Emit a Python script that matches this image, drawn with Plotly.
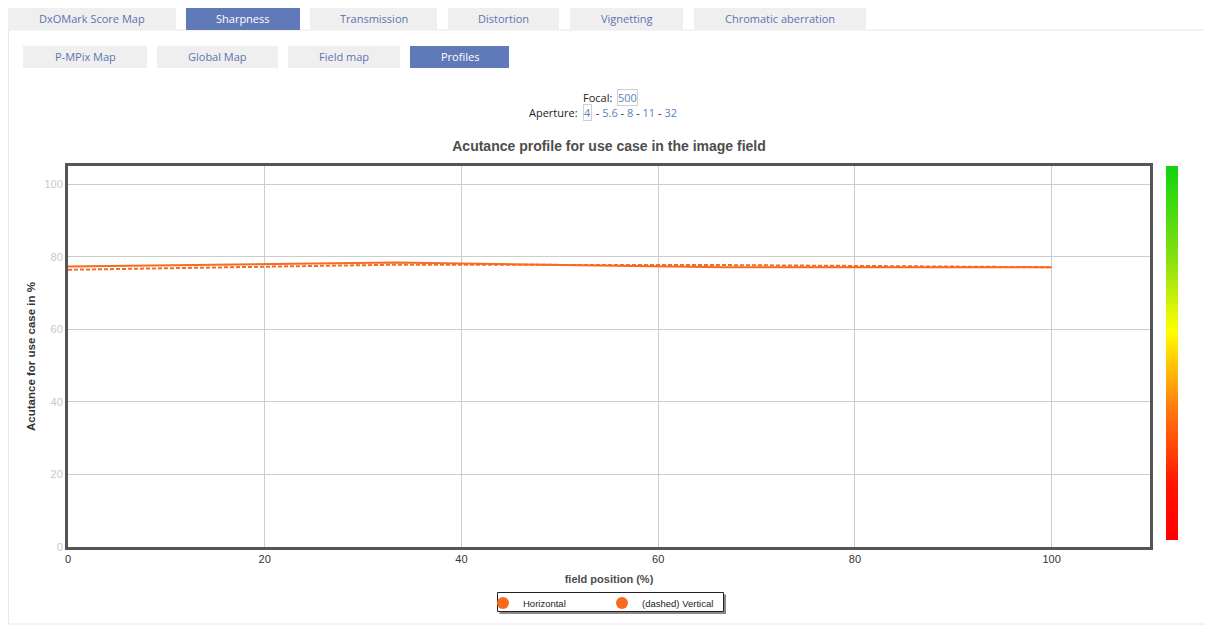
import plotly.graph_objects as go

# ---- data ----
field_pos = [0, 33.3, 66.7, 100]
horizontal = [77.3, 78.4, 77.1, 77.1]
vertical = [76.4, 77.8, 77.7, 77.1]
x_ticks = [0, 20, 40, 60, 80, 100]
y_ticks = [0, 20, 40, 60, 80, 100]
top_tabs = ["DxOMark Score Map", "Sharpness", "Transmission", "Distortion", "Vignetting", "Chromatic aberration"]
sub_tabs = ["P-MPix Map", "Global Map", "Field map", "Profiles"]
apertures = ["4", "5.6", "8", "11", "32"]

# page geometry (the page body adds an 8px offset)
OFF = 8
PAGE_W, PAGE_H = 1213, 632
W, H = PAGE_W - OFF, PAGE_H - OFF
L, R, T, B = 68, 1150, 166, 547   # plot area in page pixels
ORANGE = "#f96a20"

def px(x):
    return (x - L) / (R - L)

def py(y):
    return (B - y) / (B - T)

fig = go.Figure()
fig.add_trace(go.Scatter(x=field_pos, y=horizontal, mode="lines", line=dict(color=ORANGE, width=2),
                         showlegend=False, hoverinfo="skip"))
fig.add_trace(go.Scatter(x=field_pos, y=vertical, mode="lines", line=dict(color=ORANGE, width=2, dash="4px,2px"),
                         showlegend=False, hoverinfo="skip"))
fig.add_trace(go.Scatter(x=[None], y=[None], mode="markers", name="Horizontal",
                         marker=dict(color=ORANGE, size=11, symbol="circle")))
fig.add_trace(go.Scatter(x=[None], y=[None], mode="markers", name="(dashed) Vertical",
                         marker=dict(color=ORANGE, size=11, symbol="circle")))
# colour scale bar
fig.add_trace(go.Scatter(x=[-50], y=[-50], mode="markers", showlegend=False, hoverinfo="skip",
                         marker=dict(color=[0], cmin=0, cmax=1, size=1,
                                     colorscale=[[0, "#ff0000"], [0.15, "#ff1500"], [0.35, "#ff7a10"],
                                                 [0.56, "#ffff00"], [0.75, "#88e010"], [1, "#10d410"]],
                                     showscale=True,
                                     colorbar=dict(thickness=12, thicknessmode="pixels", len=374, lenmode="pixels",
                                                   x=px(1166), xanchor="left", y=py(353), yanchor="middle",
                                                   showticklabels=False, ticks="", outlinewidth=0,
                                                   xpad=0, ypad=0))))

shapes = []
annotations = []
# panel
shapes.append(dict(type="rect", xref="paper", yref="paper", x0=px(8.5), x1=px(1206), y0=py(30), y1=py(624),
                   line=dict(color="#e8e8e8", width=1), fillcolor="white", layer="below"))
ACTIVE = "#6079b8"
INACT = "#efefef"
TXT = "#5b74b4"
top_pos = [(7, 176), (186, 300), (310, 437), (448, 559), (570, 683), (694, 866)]
for name, (a, b) in zip(top_tabs, top_pos):
    active = name == "Sharpness"
    shapes.append(dict(type="rect", xref="paper", yref="paper", x0=px(a), x1=px(b), y0=py(8), y1=py(30),
                       line=dict(width=0), fillcolor=ACTIVE if active else INACT, layer="below"))
    annotations.append(dict(text=name, xref="paper", yref="paper", x=px((a + b) / 2), y=py(18.5),
                            xanchor="center", yanchor="middle",
                            showarrow=False, font=dict(family="Open Sans", size=11,
                                                       color="white" if active else TXT)))
sub_pos = [(23, 147), (157, 278), (288, 400), (410, 509)]
for name, (a, b) in zip(sub_tabs, sub_pos):
    active = name == "Profiles"
    shapes.append(dict(type="rect", xref="paper", yref="paper", x0=px(a), x1=px(b), y0=py(46), y1=py(68),
                       line=dict(width=0), fillcolor=ACTIVE if active else INACT, layer="below"))
    annotations.append(dict(text=name, xref="paper", yref="paper", x=px((a + b) / 2), y=py(56.5),
                            xanchor="center", yanchor="middle",
                            showarrow=False, font=dict(family="Open Sans", size=11,
                                                       color="white" if active else TXT)))

# focal / aperture selectors
LINK = "#5a7fc0"
def ann(text, x, y, xanchor, boxed=False, color="#222"):
    d = dict(text=text, xref="paper", yref="paper", x=px(x), y=py(y), xanchor=xanchor, yanchor="middle",
             showarrow=False, font=dict(family="Open Sans", size=11, color=color))
    if boxed:
        d.update(bordercolor="#d0d0d0", borderwidth=1, borderpad=0)
    annotations.append(d)

ann("Focal:", 614, 97.5, "right")
ann("500", 617, 97.5, "left", boxed=True, color=LINK)
ann("Aperture:", 580, 112.5, "right")
ann(apertures[0], 583, 112.5, "left", boxed=True, color=LINK)
rest = "".join(f' <span style="color:#222">-</span> <span style="color:{LINK}">{a}</span>' for a in apertures[1:])
ann(rest, 591, 112.5, "left", color=LINK)

# legend frame + shadow
shapes.append(dict(type="rect", xref="paper", yref="paper", x0=px(499.5), x1=px(726), y0=py(594.5), y1=py(614),
                   line=dict(width=0), fillcolor="#8a8a8a", layer="above"))
shapes.append(dict(type="rect", xref="paper", yref="paper", x0=px(497.5), x1=px(723.5), y0=py(592.5), y1=py(611.5),
                   line=dict(width=1, color="#222222"), fillcolor="white", layer="above"))

fig.update_layout(
    width=W, height=H,
    margin=dict(l=L - OFF, r=PAGE_W - R, t=T - OFF, b=PAGE_H - B),
    paper_bgcolor="white", plot_bgcolor="white",
    title=dict(text="<b>Acutance profile for use case in the image field</b>", x=(609 - OFF) / W, xanchor="center",
               y=1 - (146.5 - OFF) / H, yanchor="middle",
               font=dict(family="Liberation Sans", size=14, color="#4d4d4d")),
    xaxis=dict(range=[0, 110], tickvals=x_ticks, showgrid=True, gridcolor="#cccccc", gridwidth=1,
               showline=True, linecolor="#555555", linewidth=3, mirror=True, zeroline=False,
               tickfont=dict(family="Liberation Sans", size=11, color="#333333"),
               title=dict(text="<b>field position (%)</b>", standoff=12,
                          font=dict(family="Liberation Sans", size=11, color="#4d4d4d"))),
    yaxis=dict(range=[0, 105], tickvals=y_ticks, showgrid=True, gridcolor="#cccccc", gridwidth=1,
               showline=True, linecolor="#555555", linewidth=3, mirror=True, zeroline=False,
               tickfont=dict(family="Liberation Sans", size=11, color="#c8c8c8"),
               title=dict(text="<b>Acutance for use case in %</b>", standoff=7,
                          font=dict(family="Liberation Sans", size=11.5, color="#333333"))),
    legend=dict(orientation="h", x=px(483), xanchor="left", y=py(588.5), yanchor="top",
                borderwidth=0, bgcolor="rgba(0,0,0,0)",
                entrywidth=74, entrywidthmode="pixels",
                font=dict(family="Liberation Sans", size=9.5, color="#222"), itemsizing="constant"),
    shapes=shapes, annotations=annotations,
)

fig.write_html("out.html")
